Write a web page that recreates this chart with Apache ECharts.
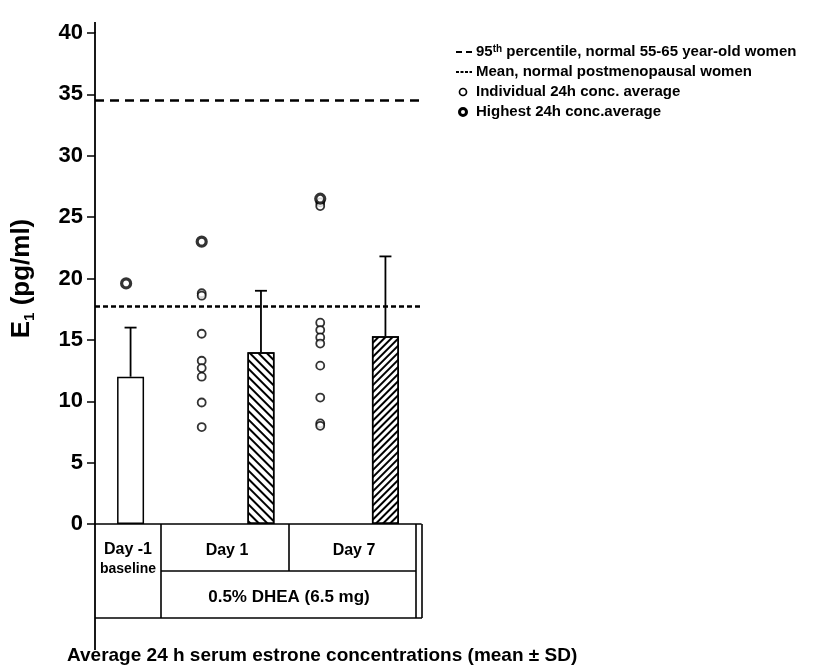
<!DOCTYPE html>
<html>
<head>
<meta charset="utf-8">
<script src="https://cdn.jsdelivr.net/npm/echarts@6/dist/echarts.min.js"></script>
<style>
  html, body { margin: 0; padding: 0; background: #fff; }
  #chart { width: 813px; height: 666px; }
</style>
</head>
<body>
<div id="chart"></div>
<script>
// positions on the hidden x scale (0..11)
const barPos = [1.2, 5.6, 9.8]
const barMean = [12, 14, 15.3]
const barUpper = [16.0, 19.0, 21.8]

const dotPos = [3.6, 7.6]
const day1Dots = [18.8, 18.6, 15.5, 13.3, 12.7, 12.0, 9.9, 7.9]
const day7Dots = [26.2, 25.9, 16.4, 15.8, 15.2, 14.7, 12.9, 10.3, 8.2, 8.0]
const highestPos = [1.05, 3.6, 7.6]
const highestVals = [19.6, 23.0, 26.5]

const pct95 = 34.5
const meanPostmeno = 17.7

const yTicks = [0, 40, 5]

const FONT = '"Liberation Sans", Arial, sans-serif'
const GL = 95, GT = 33, GW = 326, GH = 491
const GB = GT + GH
const TB = 618, ROW = 571

// Day 1 hatch runs "\", Day 7 hatch runs "/" and is denser
const hatchBack = {
  symbol: 'rect', symbolSize: 1, color: '#000',
  dashArrayX: [1, 0], dashArrayY: [1.4, 3.6], rotation: Math.PI / 4
}
const hatchFwd = {
  symbol: 'rect', symbolSize: 1, color: '#000',
  dashArrayX: [1, 0], dashArrayY: [1.2, 2.6], rotation: -Math.PI / 4
}
const decals = [null, hatchBack, hatchFwd]

const chart = echarts.init(document.getElementById('chart'))

const openDots = []
day1Dots.forEach(v => openDots.push([dotPos[0], v]))
day7Dots.forEach(v => openDots.push([dotPos[1], v]))

const line = (x1, y1, x2, y2, w) => ({
  type: 'line', silent: true,
  shape: { x1, y1, x2, y2 },
  style: { stroke: '#000', lineWidth: w || 1.6 }
})
const txt = (x, y, text, size, align) => ({
  type: 'text', x, y, silent: true,
  style: {
    text, fill: '#000', font: 'bold ' + size + 'px ' + FONT,
    align: align || 'center', verticalAlign: 'middle'
  }
})

const LX = 476, LY = [52, 72, 92, 112]

const option = {
  animation: false,
  backgroundColor: '#fff',
  grid: { left: GL, top: GT, width: GW, height: GH },
  xAxis: {
    type: 'value', min: 0, max: 11,
    axisLine: { show: true, onZero: false, lineStyle: { color: '#000', width: 1.6 } },
    axisTick: { show: false }, axisLabel: { show: false }, splitLine: { show: false }
  },
  yAxis: {
    type: 'value', min: yTicks[0], max: yTicks[1], interval: yTicks[2],
    name: 'E{s|1} (pg/ml)', nameLocation: 'middle', nameGap: 58, nameRotate: 90,
    nameTextStyle: {
      color: '#000', fontFamily: FONT, fontWeight: 'bold', fontSize: 26,
      rich: { s: { fontSize: 15, fontWeight: 'bold', fontFamily: FONT, verticalAlign: 'bottom', padding: [16, 0, 0, 0] } }
    },
    axisLine: { show: true, lineStyle: { color: '#000', width: 1.8 } },
    axisTick: { show: true, length: 8, lineStyle: { color: '#000', width: 1.5 } },
    axisLabel: { color: '#000', fontFamily: FONT, fontWeight: 'bold', fontSize: 22, margin: 12 },
    splitLine: { show: false }
  },
  series: [
    {
      type: 'bar', barWidth: 27,
      data: barPos.map((x, i) => ({
        value: [x, barMean[i]],
        itemStyle: Object.assign({ color: '#fff', borderColor: '#000', borderWidth: 1.5 },
          decals[i] ? { decal: decals[i] } : {})
      })),
      markLine: {
        silent: true, symbol: 'none', label: { show: false },
        data: [
          { yAxis: pct95, lineStyle: { color: '#000', width: 2.6, type: [9, 6] } },
          { yAxis: meanPostmeno, lineStyle: { color: '#000', width: 2.6, type: [5, 3] } }
        ]
      }
    },
    {
      type: 'custom',
      data: barPos.map((x, i) => [x, barMean[i], barUpper[i]]),
      renderItem: (params, api) => {
        const lo = api.coord([api.value(0), api.value(1)])
        const hi = api.coord([api.value(0), api.value(2)])
        const st = { stroke: '#000', lineWidth: 1.8 }
        return {
          type: 'group',
          children: [
            { type: 'line', shape: { x1: lo[0], y1: lo[1], x2: hi[0], y2: hi[1] }, style: st },
            { type: 'line', shape: { x1: hi[0] - 6, y1: hi[1], x2: hi[0] + 6, y2: hi[1] }, style: st }
          ]
        }
      },
      z: 3
    },
    {
      type: 'scatter', symbol: 'circle', symbolSize: 8,
      itemStyle: { color: '#fff', borderColor: '#000', borderWidth: 1.8 },
      data: openDots, z: 4
    },
    {
      type: 'scatter', symbol: 'circle', symbolSize: 9,
      itemStyle: { color: '#fff', borderColor: '#000', borderWidth: 3.2 },
      data: highestPos.map((x, i) => [x, highestVals[i]]), z: 5
    }
  ],
  graphic: [
    // axis continues above 40 and down past the table
    line(GL, 22, GL, GT, 1.8),
    line(GL, GB, GL, 650, 1.8),
    // table under the axis
    line(161, GB, 161, TB),
    line(289, GB, 289, ROW),
    line(161, ROW, 416, ROW),
    line(GL, TB, 422, TB),
    line(416, GB, 416, TB),
    line(422, GB, 422, TB),
    txt(128, 550, 'Day -1', 16),
    txt(128, 569, 'baseline', 14),
    txt(227, 551, 'Day 1', 16),
    txt(354, 551, 'Day 7', 16),
    txt(289, 597, '0.5% DHEA (6.5 mg)', 17),
    txt(67, 656, 'Average 24 h serum estrone concentrations (mean \u00b1 SD)', 19, 'left'),
    // legend
    { type: 'line', silent: true, shape: { x1: LX - 20, y1: LY[0], x2: LX - 4, y2: LY[0] },
      style: { stroke: '#000', lineWidth: 2, lineDash: [6, 4] } },
    { type: 'line', silent: true, shape: { x1: LX - 20, y1: LY[1], x2: LX - 4, y2: LY[1] },
      style: { stroke: '#000', lineWidth: 2, lineDash: [3, 1.5] } },
    { type: 'circle', silent: true, shape: { cx: LX - 13, cy: LY[2], r: 3.5 },
      style: { fill: '#fff', stroke: '#000', lineWidth: 1.7 } },
    { type: 'circle', silent: true, shape: { cx: LX - 13, cy: LY[3], r: 3.5 },
      style: { fill: '#fff', stroke: '#000', lineWidth: 3 } },
    {
      type: 'text', x: LX, y: LY[0], silent: true,
      style: {
        text: '95{sup|th} percentile, normal 55-65 year-old women',
        fill: '#000', font: 'bold 15px ' + FONT, verticalAlign: 'middle',
        rich: { sup: { fontSize: 10, fontWeight: 'bold', fontFamily: FONT, verticalAlign: 'top', padding: [0, 0, 6, 0] } }
      }
    },
    txt(LX, LY[1], 'Mean, normal postmenopausal women', 15, 'left'),
    txt(LX, LY[2], 'Individual 24h conc. average', 15, 'left'),
    txt(LX, LY[3], 'Highest 24h conc.average', 15, 'left')
  ]
}

chart.setOption(option)
</script>
</body>
</html>
